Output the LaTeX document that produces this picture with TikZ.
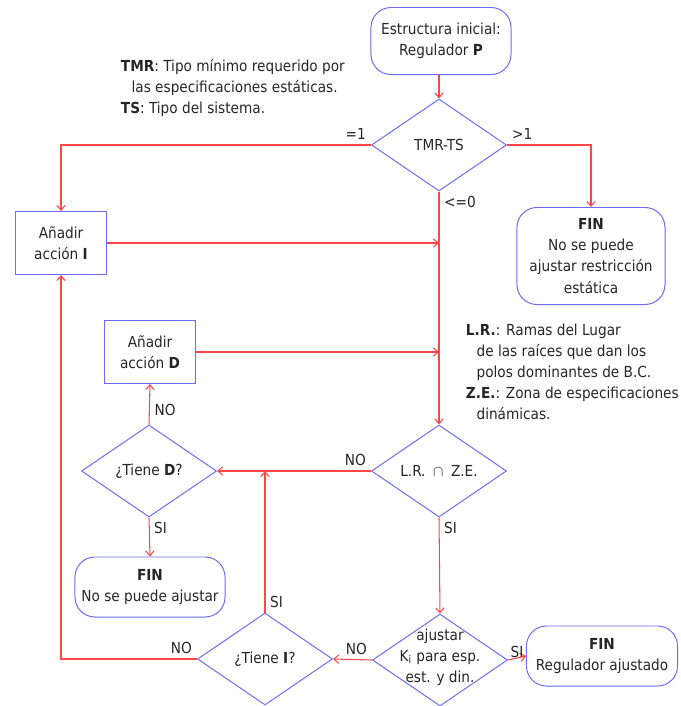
\documentclass[tikz,border=0pt]{standalone}
\usepackage{fontspec}
\setmainfont{DejaVu Sans Condensed}
\usetikzlibrary{shapes.geometric, arrows.meta}
\definecolor{flowBlue}{HTML}{6B6BF5}
\definecolor{flowRed}{HTML}{FF4646}

\begin{document}
\begin{tikzpicture}[x=0.025cm, y=-0.025cm,
  every node/.style={font=\fontsize{10.8}{15}\selectfont, text=black!85},
  box/.style={rectangle, draw=flowBlue, line width=0.7pt, minimum width=2.25cm, minimum height=1.575cm, align=center},
  endbox/.style={rectangle, rounded corners=0.5cm, draw=flowBlue, line width=0.7pt, align=center},
  decision/.style={diamond, draw=flowBlue, line width=0.7pt, minimum width=3.375cm, minimum height=2.3cm, inner sep=0pt},
  flow/.style={draw=flowRed, line width=0.75pt, -{Straight Barb[length=3.5pt, width=6pt]}}]
  \useasboundingbox (0,0) rectangle (680,706);

  % main column
  \node[endbox, minimum width=3.5cm, minimum height=1.675cm] (inicio) at (441,41) {Estructura inicial:\\Regulador \textbf{P}};
  \node[decision] (tmr) at (439,145) {TMR-TS};
  \node[decision] (lrze) at (439,471) {L.R.\enspace$\cap$\enspace Z.E.};
  \node[decision] (ajus) at (440,660) {};
  \node[align=center] (ajusTxt) at (440,657) {ajustar\\K\textsubscript{i} para esp.\\est. y din.};

  % left column
  \node[box] (addI) at (61,243) {Añadir\\acción \textbf{I}};
  \node[box] (addD) at (150,352) {Añadir\\acción \textbf{D}};
  \node[decision] (tieneD) at (149,471) {¿Tiene \textbf{D}?};
  \node[decision] (tieneI) at (265,659) {¿Tiene \textbf{I}?};

  % end states
  \node[endbox, minimum width=3.7cm, minimum height=2.425cm] (finEst) at (591,256) {\textbf{FIN}\\No se puede\\ajustar restricción\\estática};
  \node[endbox, minimum width=3.75cm, minimum height=1.5cm] (finNo) at (150,587) {\textbf{FIN}\\No se puede ajustar};
  \node[endbox, minimum width=3.775cm, minimum height=1.5cm] (finOk) at (602,656) {\textbf{FIN}\\Regulador ajustado};

  % notes
  \node[align=left, anchor=north west] (tmrNote) at (116,54) {\textbf{TMR}: Tipo mínimo requerido por\\\hspace*{0.7em}las especificaciones estáticas.\\\textbf{TS}: Tipo del sistema.};
  \node[align=left, anchor=north west] (lrNote) at (461,319) {\textbf{L.R.}: Ramas del Lugar\\\hspace*{0.7em}de las raíces que dan los\\\hspace*{0.7em}polos dominantes de B.C.\\\textbf{Z.E.}: Zona de especificaciones\\\hspace*{0.7em}dinámicas.};

  % connectors
  \draw[flow] (tmr.north |- inicio.south) -- (tmr.north);
  \draw[flow] (tmr.west) node[above left] (eq1) {=1} -| (addI.north);
  \draw[flow] (tmr.east) node[above right] (gt1) {>1} -| (finEst.north);
  \draw[flow] (tmr.south) node[below right] (le0) {<=0} -- (lrze.north);
  \draw[flow] (addI.east) -- (addI.east -| tmr.south);
  \draw[flow] (addD.east) -- (addD.east -| tmr.south);
  \draw[flow] (tieneD.north) -- node[right, pos=0.35] (noD) {NO} (addD.south);
  \draw[flow] (lrze.west) node[above left] (noLR) {NO} -- (tieneD.east);
  \draw[flow] (lrze.south) node[below right] (siLR) {SI} -- (ajus.north);
  \draw[flow] (tieneD.south) node[below right] (siD) {SI} -- (finNo.north);
  \draw[flow] (tieneI.north) node[above right] (siI) {SI} -- (tieneI.north |- tieneD.east);
  \draw[flow] (tieneI.west) node[above left] (noI) {NO} -| (addI.south);
  \draw[flow] (ajus.west) node[above left] (noAj) {NO} -- (tieneI.east);
  \draw[flow] (ajus.east) node[above right, inner sep=1.5pt] (siAj) {SI} -- (finOk.west);
\end{tikzpicture}
\end{document}
